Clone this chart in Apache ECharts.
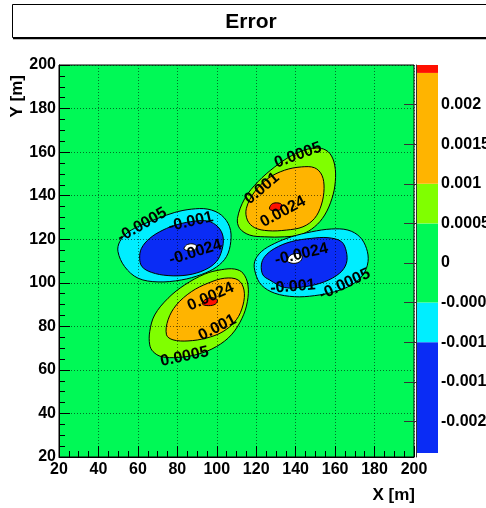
<!DOCTYPE html>
<html>
<head>
<meta charset="utf-8">
<script src="https://cdn.jsdelivr.net/npm/echarts@6/dist/echarts.min.js"></script>
<style>
  html, body { margin: 0; padding: 0; background: #ffffff; }
  #chart { width: 486px; height: 508px; }
</style>
</head>
<body>
<div id="chart"></div>
<script>
// Contour levels of the error map and the z range shown on the palette
const levels = [-0.0024, -0.001, -0.0005, 0.0005, 0.001, 0.0024];
const zMin = -0.00245;
const zMax = 0.0025;
// One colour per band: below levels[0], between consecutive levels, above the last level
const bandColors = ['#ffffff', '#0a2cf5', '#00eeff', '#00f956', '#80ff00', '#ffb400', '#ff1000'];

// Axis ticks
const xyTicks = [20, 40, 60, 80, 100, 120, 140, 160, 180, 200];
const paletteTicks = [-0.002, -0.0015, -0.001, -0.0005, 0, 0.0005, 0.001, 0.0015, 0.002];

// Contour lines, [X (m), Y (m)] vertices of each closed curve
const leftLobeOuter = [[49.9,114.3],[50.8,118.9],[55.0,123.2],[61.8,126.5],[70.2,129.6],[78.7,132.3],[87.1,133.8],[95.5,133.8],[102.3,131.1],[106.5,125.7],[107.1,118.9],[104.9,112.0],[99.8,107.2],[92.2,103.8],[82.1,101.3],[70.2,100.4],[60.1,102.1],[53.3,107.4]];
const leftLobeInner = [[60.9,111.2],[61.8,115.8],[66.0,120.4],[72.7,124.2],[80.3,126.8],[88.8,128.3],[95.5,128.3],[100.6,125.7],[103.2,121.1],[102.6,115.0],[99.8,109.7],[93.9,105.9],[85.4,103.6],[75.3,103.3],[66.8,104.8],[62.1,107.4]];
const leftLobeCore = [[83.4,115.5],[84.6,117.3],[87.4,117.9],[89.7,117.0],[89.2,115.4],[86.8,114.6]];

const upperLobeOuter = [[110.5,129.6],[114.2,138.7],[120.9,146.4],[129.4,153.2],[137.8,158.3],[146.2,161.4],[153.0,161.7],[157.3,159.4],[159.8,154.0],[160.1,146.4],[158.4,138.7],[154.7,131.1],[149.6,125.7],[142.9,122.2],[134.4,121.1],[124.3,121.1],[116.7,121.9],[111.6,125.0]];
const upperLobeInner = [[115.0,134.2],[119.2,141.8],[126.0,147.9],[134.4,151.7],[142.9,153.2],[149.6,152.8],[153.3,149.4],[154.4,143.3],[153.0,135.7],[149.6,129.6],[143.7,125.7],[135.3,124.2],[126.0,123.9],[119.2,125.3],[115.5,128.8]];
const upperLobeCore = [[126.8,133.8],[127.7,136.0],[130.2,136.7],[132.8,136.0],[132.4,133.8],[129.7,133.1]];

const rightLobeOuter = [[119.2,109.7],[122.6,114.3],[129.4,118.1],[137.8,121.1],[148.0,123.4],[158.1,124.7],[166.5,124.2],[172.5,121.1],[175.9,115.8],[176.7,109.7],[174.1,103.6],[168.3,99.0],[159.8,95.9],[149.6,94.1],[139.5,93.6],[129.4,95.2],[122.6,99.0],[119.6,104.4]];
const rightLobeInner = [[122.6,108.2],[124.3,112.0],[129.4,115.8],[137.8,118.9],[148.0,120.4],[156.4,120.7],[163.2,118.9],[165.7,114.3],[165.7,108.9],[162.3,104.4],[154.7,100.5],[144.6,98.2],[134.4,97.8],[126.8,101.3],[123.4,103.6]];
const rightLobeCore = [[135.8,110.0],[137.0,112.4],[140.4,113.5],[143.2,112.4],[142.5,110.0],[139.1,108.9]];

const lowerLobeOuter = [[66.0,71.5],[66.0,77.6],[68.5,85.2],[75.3,92.9],[83.7,99.0],[93.9,104.0],[102.3,106.0],[109.1,106.3],[113.3,104.4],[115.8,99.0],[115.5,91.3],[112.8,83.7],[107.4,76.1],[99.8,70.7],[90.5,67.2],[80.3,65.7],[71.9,66.1],[67.7,68.4]];
const lowerLobeInner = [[74.5,76.1],[75.3,83.0],[79.5,89.8],[87.1,95.9],[95.5,99.8],[104.0,102.1],[110.8,101.3],[113.8,96.7],[113.3,89.8],[109.9,83.0],[103.2,77.6],[94.7,74.6],[85.4,73.3],[77.8,73.8]];
const lowerLobeCore = [[92.7,90.2],[93.9,92.1],[97.3,93.2],[100.3,92.1],[99.3,90.2],[95.9,89.5]];

// Contour labels: [X, Y, level, text angle in degrees]
const contourLabels = [
  [62.1, 126.5, -0.0005, 30], [86.8, 128.0, -0.001, 13], [89.2, 114.0, -0.0024, 17],
  [141.2, 158.6, 0.0005, 20], [122.9, 143.3, 0.001, 40], [133.6, 132.6, 0.0024, 28],
  [142.9, 113.1, -0.0024, 13], [138.6, 98.2, -0.001, 5], [164.9, 99.3, -0.0005, 25],
  [96.9, 93.6, 0.0024, 24], [100.3, 79.4, 0.001, 27], [83.7, 66.1, 0.0005, 12]
];

// Drawing order: outer curves first, the innermost ones last
const contours = [
  [-0.0005, leftLobeOuter], [0.0005, upperLobeOuter], [-0.0005, rightLobeOuter], [0.0005, lowerLobeOuter],
  [-0.001, leftLobeInner], [0.001, upperLobeInner], [-0.001, rightLobeInner], [0.001, lowerLobeInner],
  [-0.0024, leftLobeCore], [0.0024, upperLobeCore], [-0.0024, rightLobeCore], [0.0024, lowerLobeCore]
];

// A negative level encloses lower values, a positive one higher values
function fillFor(level) {
  const i = levels.indexOf(level);
  return level < 0 ? bandColors[i] : bandColors[i + 1];
}

// Palette bands between consecutive levels, and from the top level to zMax
const paletteBands = levels.map((lv, i) => [0, lv, i + 1 < levels.length ? levels[i + 1] : zMax, i + 1]);

const FONT = '"Liberation Sans", Arial, Helvetica, sans-serif';
const fmtZ = v => String(+v.toFixed(5));

const chart = echarts.init(document.getElementById('chart'), null, { renderer: 'canvas', width: 486, height: 508 });

const axisCommon = {
  type: 'value',
  min: xyTicks[0],
  max: xyTicks[xyTicks.length - 1],
  interval: xyTicks[1] - xyTicks[0],
  z: 10,
  axisLine: { show: true, lineStyle: { color: '#000', width: 1 } },
  axisTick: { show: true, inside: true, length: 11, lineStyle: { color: '#000', width: 1 } },
  minorTick: { show: true, splitNumber: 4, length: 6, lineStyle: { color: '#000', width: 1 } },
  splitLine: { show: true, lineStyle: { color: '#000', width: 1, type: [1, 2], opacity: 0.55 } },
  minorSplitLine: { show: false }
};

chart.setOption({
  animation: false,
  backgroundColor: '#ffffff',
  grid: [
    { left: 59, top: 65, width: 355, height: 392, outerBoundsMode: 'none', containLabel: false, show: true, backgroundColor: bandColors[3], borderColor: '#000', borderWidth: 1 },
    { left: 416, top: 65, width: 22, height: 392, outerBoundsMode: 'none', containLabel: false, show: false }
  ],
  xAxis: [
    Object.assign({}, axisCommon, {
      gridIndex: 0,
      axisLabel: { color: '#000', fontFamily: FONT, fontWeight: 'bold', fontSize: 16, margin: 5 }
    }),
    { type: 'value', gridIndex: 1, min: 0, max: 1, show: false }
  ],
  yAxis: [
    Object.assign({}, axisCommon, {
      gridIndex: 0,
      axisLabel: { color: '#000', fontFamily: FONT, fontWeight: 'bold', fontSize: 16, margin: 3, padding: [6, 0, 0, 0] }
    }),
    {
      type: 'value', gridIndex: 1, position: 'right', min: zMin, max: zMax, z: 10,
      axisLine: { show: true, lineStyle: { color: '#333', width: 1 } },
      axisTick: { show: true, inside: true, length: 12, customValues: paletteTicks, lineStyle: { color: '#333', width: 1 } },
      axisLabel: { show: true, customValues: paletteTicks, formatter: fmtZ, color: '#000', fontFamily: FONT, fontWeight: 'bold', fontSize: 16, margin: 3 },
      splitLine: { show: false }
    }
  ],
  series: [
    {
      type: 'custom',
      xAxisIndex: 0, yAxisIndex: 0,
      z: 2,
      clip: true,
      data: contours.map((c, i) => [c[1][0][0], c[1][0][1], i]),
      encode: { x: 0, y: 1 },
      renderItem: function (params, api) {
        const c = contours[api.value(2)];
        return {
          type: 'polygon',
          shape: { points: c[1].map(p => api.coord(p)), smooth: 0.35 },
          style: { fill: fillFor(c[0]), stroke: '#000', lineWidth: 1 }
        };
      }
    },
    {
      type: 'custom',
      xAxisIndex: 0, yAxisIndex: 0,
      z: 3,
      data: contourLabels,
      encode: { x: 0, y: 1 },
      renderItem: function (params, api) {
        const pt = api.coord([api.value(0), api.value(1)]);
        return {
          type: 'text',
          x: pt[0], y: pt[1],
          rotation: api.value(3) * Math.PI / 180,
          style: {
            text: String(api.value(2)),
            font: 'bold 16px ' + FONT,
            fill: '#000',
            align: 'center',
            verticalAlign: 'middle'
          }
        };
      }
    },
    {
      type: 'custom',
      xAxisIndex: 1, yAxisIndex: 1,
      z: 2,
      data: paletteBands,
      encode: { x: 0, y: [1, 2] },
      renderItem: function (params, api) {
        const a = api.coord([0, api.value(2)]);
        const b = api.coord([1, api.value(1)]);
        return {
          type: 'rect',
          shape: { x: a[0], y: a[1], width: b[0] - a[0], height: b[1] - a[1] },
          style: { fill: bandColors[api.value(3)] }
        };
      }
    }
  ],
  graphic: [
    { type: 'rect', shape: { x: 12.5, y: 4.5, width: 490, height: 33 }, style: { fill: '#fff', stroke: '#000', lineWidth: 1 } },
    { type: 'line', shape: { x1: 13, y1: 38.5, x2: 500, y2: 38.5 }, style: { stroke: '#000', lineWidth: 1.5 } },
    { type: 'text', x: 251, y: 22, style: { text: 'Error', font: 'bold 21px ' + FONT, fill: '#000', align: 'center', verticalAlign: 'middle' } },
    { type: 'text', x: 415, y: 495, style: { text: 'X [m]', font: 'bold 17px ' + FONT, fill: '#000', align: 'right', verticalAlign: 'middle' } },
    { type: 'text', x: 17, y: 75, rotation: Math.PI / 2, style: { text: 'Y [m]', font: 'bold 17px ' + FONT, fill: '#000', align: 'right', verticalAlign: 'middle' } }
  ]
});
</script>
</body>
</html>
